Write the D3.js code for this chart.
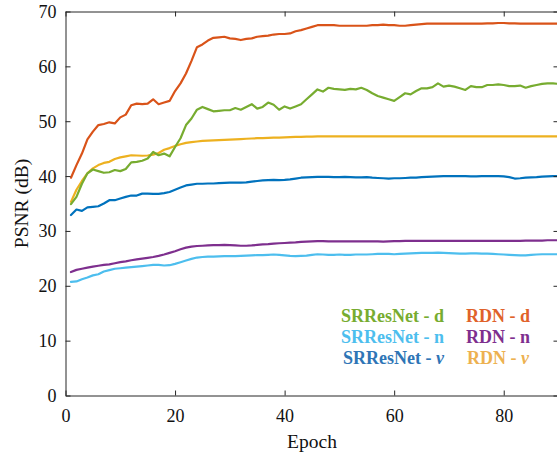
<!DOCTYPE html>
<html><head><meta charset="utf-8">
<script src="https://cdn.jsdelivr.net/npm/d3@7"></script>
<style>html,body{margin:0;padding:0;background:#fff;overflow:hidden}</style>
</head><body>
<svg id="chart" width="557" height="454"></svg>
<script>
const epochs = d3.range(1, 91);
const xTicks = [0, 20, 40, 60, 80];
const yTicks = [0, 10, 20, 30, 40, 50, 60, 70];

const rdnD = [39.7,42.0,44.1,46.7,48.1,49.3,49.5,49.8,49.6,50.7,51.2,52.9,53.2,53.1,53.2,54.0,53.1,53.4,53.7,55.5,
  56.9,58.7,61.0,63.5,64.0,64.7,65.2,65.3,65.4,65.1,65.0,64.8,65.0,65.1,65.4,65.5,65.6,65.8,65.9,65.9,
  66.0,66.4,66.6,66.9,67.2,67.5,67.5,67.5,67.5,67.4,67.4,67.4,67.4,67.4,67.4,67.5,67.5,67.6,67.5,67.5,
  67.4,67.4,67.5,67.6,67.7,67.8,67.8,67.8,67.8,67.8,67.8,67.8,67.8,67.8,67.8,67.8,67.85,67.85,67.9,67.9,
  67.85,67.85,67.8,67.8,67.8,67.8,67.8,67.8,67.8,67.8];
const srD = [34.9,36.2,38.6,40.5,41.2,40.9,40.6,40.7,41.1,40.9,41.3,42.5,42.6,42.8,43.2,44.4,43.8,44.1,43.6,45.3,
  46.9,49.3,50.5,52.1,52.6,52.2,51.8,51.9,52.0,52.0,52.4,52.1,52.6,53.1,52.3,52.6,53.4,53.0,52.1,52.7,
  52.3,52.7,53.1,54.0,54.9,55.8,55.4,56.1,55.9,55.8,55.7,55.9,55.8,56.1,55.7,55.1,54.6,54.3,54.0,53.7,
  54.4,55.1,54.9,55.5,56.0,56.0,56.2,56.9,56.3,56.5,56.3,56.0,55.7,56.4,56.2,56.2,56.6,56.6,56.7,56.6,
  56.4,56.4,56.5,56.1,56.4,56.6,56.8,56.9,56.9,56.8];
const rdnV = [35.3,37.5,39.1,40.5,41.4,42.0,42.4,42.6,43.1,43.4,43.6,43.8,43.75,43.7,43.75,43.9,44.2,44.8,45.1,45.5,
  45.8,46.05,46.2,46.3,46.4,46.45,46.5,46.55,46.6,46.65,46.7,46.75,46.8,46.85,46.9,46.9,46.95,47.0,47.0,47.05,
  47.1,47.15,47.15,47.2,47.2,47.25,47.25,47.25,47.25,47.25,47.25,47.25,47.25,47.25,47.25,47.25,47.25,47.25,47.25,47.25,
  47.25,47.25,47.25,47.25,47.25,47.25,47.25,47.25,47.25,47.25,47.25,47.25,47.25,47.25,47.25,47.25,47.25,47.25,47.25,47.25,
  47.25,47.25,47.25,47.25,47.25,47.25,47.25,47.25,47.25,47.25];
const srV = [32.9,33.9,33.65,34.3,34.4,34.5,35.0,35.6,35.6,35.9,36.2,36.45,36.45,36.8,36.8,36.75,36.75,36.9,37.1,37.5,
  37.9,38.3,38.45,38.6,38.6,38.65,38.65,38.7,38.75,38.8,38.8,38.8,38.85,39.0,39.1,39.2,39.25,39.3,39.25,39.3,
  39.4,39.55,39.7,39.75,39.8,39.85,39.85,39.85,39.8,39.8,39.85,39.8,39.75,39.75,39.8,39.7,39.65,39.6,39.55,39.6,
  39.6,39.65,39.7,39.7,39.8,39.85,39.9,39.95,40.0,40.0,40.0,40.0,40.0,39.95,39.95,40.0,40.0,40.0,40.0,39.95,
  39.8,39.55,39.6,39.7,39.75,39.8,39.9,39.95,40.0,40.0];
const rdnN = [22.5,22.9,23.1,23.3,23.5,23.65,23.8,23.9,24.1,24.3,24.45,24.65,24.8,24.95,25.1,25.25,25.45,25.7,26.0,26.3,
  26.65,26.95,27.15,27.25,27.3,27.35,27.4,27.4,27.45,27.4,27.35,27.3,27.3,27.35,27.45,27.55,27.6,27.7,27.75,27.8,
  27.85,27.9,28.0,28.05,28.1,28.15,28.15,28.1,28.1,28.1,28.1,28.1,28.1,28.1,28.1,28.1,28.1,28.05,28.1,28.15,
  28.15,28.2,28.2,28.2,28.2,28.2,28.2,28.2,28.2,28.2,28.2,28.2,28.2,28.2,28.2,28.2,28.2,28.2,28.2,28.2,
  28.2,28.2,28.2,28.25,28.25,28.25,28.25,28.3,28.3,28.3];
const srN = [20.7,20.8,21.2,21.5,21.9,22.1,22.6,22.85,23.1,23.2,23.3,23.4,23.5,23.6,23.7,23.8,23.8,23.7,23.75,24.0,
  24.3,24.6,24.9,25.15,25.25,25.3,25.3,25.35,25.4,25.4,25.4,25.45,25.5,25.55,25.6,25.6,25.65,25.7,25.65,25.55,
  25.45,25.4,25.45,25.5,25.65,25.75,25.7,25.65,25.65,25.7,25.65,25.65,25.7,25.7,25.7,25.75,25.8,25.8,25.8,25.75,
  25.8,25.85,25.9,25.95,26.0,26.0,26.0,26.05,26.0,25.95,25.9,25.85,25.85,25.9,25.9,25.85,25.85,25.8,25.75,25.7,
  25.65,25.6,25.55,25.55,25.65,25.7,25.75,25.75,25.75,25.75];

const seriesNames = ["RDN - n","SRResNet - n","SRResNet - v","RDN - v","SRResNet - d","RDN - d"];
const seriesValues = [rdnN, srN, srV, rdnV, srD, rdnD];
const seriesColors = ["#7E2F8E","#4DBEEE","#0072BD","#EDB120","#77AC30","#D95319"];

const svg = d3.select("#chart");
const L = 65.5, R = 558.5, T = 11.5, B = 395.5;
const x = d3.scaleLinear().domain([0, 90]).range([L, R]);
const y = d3.scaleLinear().domain([0, 70]).range([B, T]);

const font = "'Liberation Serif','Times New Roman',serif";
const axisColor = "#262626";

// lines
const line = d3.line().x((d, i) => x(epochs[i])).y(d => y(d));
seriesValues.forEach((vals, k) => {
  svg.append("path").datum(vals)
    .attr("fill", "none").attr("stroke", seriesColors[k])
    .attr("stroke-width", 2.2).attr("stroke-linejoin", "round").attr("stroke-linecap", "round")
    .attr("d", line);
});

// axes
function styleAxis(g, showText) {
  g.select(".domain").attr("stroke", axisColor).attr("stroke-width", 1);
  g.selectAll(".tick line").attr("stroke", axisColor).attr("stroke-width", 1);
  g.selectAll(".tick text").attr("fill", "#111").style("font-family", font).style("font-size", "18px");
  if (!showText) g.selectAll(".tick text").remove();
}
const xb = svg.append("g").attr("transform", `translate(0,${B})`)
  .call(d3.axisBottom(x).tickValues(xTicks).tickSize(-5).tickSizeOuter(0).tickPadding(10).tickFormat(d3.format("d")));
styleAxis(xb, true);
const xt = svg.append("g").attr("transform", `translate(0,${T})`)
  .call(d3.axisTop(x).tickValues(xTicks).tickSize(-5).tickSizeOuter(0));
styleAxis(xt, false);
const yl = svg.append("g").attr("transform", `translate(${L},0)`)
  .call(d3.axisLeft(y).tickValues(yTicks).tickSize(-5).tickSizeOuter(0).tickPadding(9).tickFormat(d3.format("d")));
styleAxis(yl, true);
const yr = svg.append("g").attr("transform", `translate(${R},0)`)
  .call(d3.axisRight(y).tickValues(yTicks).tickSize(-5).tickSizeOuter(0));
styleAxis(yr, false);
// first x tick label
svg.selectAll(".tick text").attr("dy", null);
xb.selectAll(".tick text").attr("y", 26);
yl.selectAll(".tick text").attr("dy", "0.33em");

// axis titles
svg.append("text").attr("x", x(45) - 0).attr("y", 448).attr("text-anchor", "middle")
  .style("font-family", font).style("font-size", "19.5px").attr("fill", "#111").text("Epoch");
svg.append("text").attr("transform", `translate(28,${y(35)}) rotate(-90)`).attr("text-anchor", "middle")
  .style("font-family", font).style("font-size", "19.5px").attr("fill", "#111").text("PSNR (dB)");

// legend
const legendRows = [
  {name: "SRResNet - ", tag: "d", color: "#77AC30", col: 0, row: 0},
  {name: "SRResNet - ", tag: "n", color: "#4DBEEE", col: 0, row: 1},
  {name: "SRResNet - ", tag: "v", color: "#2E75B6", col: 0, row: 2},
  {name: "RDN - ", tag: "d", color: "#E0622A", col: 1, row: 0},
  {name: "RDN - ", tag: "n", color: "#7E2F8E", col: 1, row: 1},
  {name: "RDN - ", tag: "v", color: "#EDB150", col: 1, row: 2}
];
legendRows.forEach(r => {
  const t = svg.append("text")
    .attr("x", r.col === 0 ? 444 : 498).attr("y", 322 + r.row * 21)
    .attr("text-anchor", r.col === 0 ? "end" : "middle")
    .style("font-family", font).style("font-size", "18px").style("font-weight", "bold")
    .attr("fill", r.color);
  t.append("tspan").text(r.name);
  t.append("tspan").style("font-style", r.tag === "v" ? "italic" : "normal").text(r.tag);
});
</script>
</body></html>
